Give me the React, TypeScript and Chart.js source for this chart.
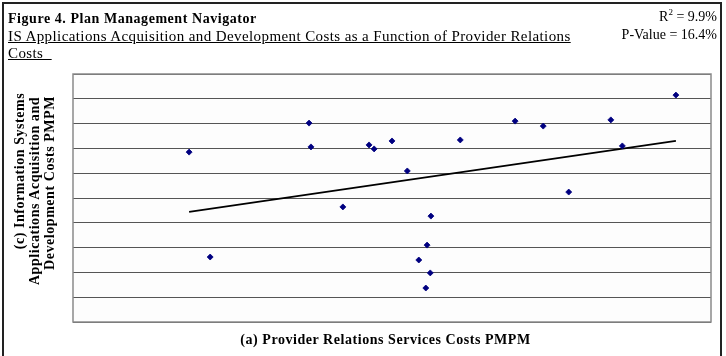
import React, { useEffect, useRef } from "react";
import { Chart, registerables } from "chart.js";

Chart.register(...registerables);

const pointsX = [18.2, 21.5, 37.0, 37.3, 42.3, 46.4, 47.2, 50.0, 52.4, 56.1, 55.5, 54.2, 56.0, 55.3, 60.7, 69.3, 73.7, 77.7, 84.3, 86.1, 94.5];
const pointsY = [6.85, 2.62, 8.02, 7.06, 4.64, 7.14, 6.98, 7.3, 6.09, 4.27, 3.1, 2.5, 1.98, 1.37, 7.34, 8.1, 7.9, 5.24, 8.15, 7.1, 9.15];
const trendX = [18.2, 94.5];
const trendY = [4.44, 7.3];

const titleText = "Figure 4. Plan Management Navigator";
const subtitleLine1 = "IS Applications Acquisition and Development Costs as a Function of Provider Relations";
const subtitleLine2 = "Costs\u00a0\u00a0";
const rSquaredText = "9.9%";
const pValueText = "P-Value = 16.4%";
const xTitle = "(a) Provider Relations Services Costs PMPM";
const yTitle = ["(c)  Information Systems", "Applications Acquisition and", "Development Costs PMPM"];

const SERIF = "'Liberation Serif', 'Times New Roman', serif";

const yTitlePos = [
  { x: 20, y: 171 },
  { x: 35, y: 191 },
  { x: 50, y: 183 },
];

export default function App() {
  const canvasRef = useRef<HTMLCanvasElement | null>(null);

  useEffect(() => {
    const canvas = canvasRef.current;
    if (!canvas) return;
    const plotBorder = {
      id: "plotBorder",
      beforeDraw(chart: any) {
        const { ctx, chartArea } = chart;
        ctx.save();
        ctx.fillStyle = "#fdfdfd";
        ctx.fillRect(chartArea.left, chartArea.top, chartArea.right - chartArea.left, chartArea.bottom - chartArea.top);
        ctx.restore();
      },
      afterDatasetsDraw(chart: any) {
        const { ctx, chartArea } = chart;
        ctx.save();
        ctx.strokeStyle = "#8a8a8a";
        ctx.lineWidth = 1.5;
        ctx.strokeRect(chartArea.left, chartArea.top, chartArea.right - chartArea.left, chartArea.bottom - chartArea.top);
        ctx.restore();
      },
    };
    const points = pointsX.map((x, i) => ({ x, y: pointsY[i] }));
    const trend = trendX.map((x, i) => ({ x, y: trendY[i] }));
    const chart = new Chart(canvas, {
      type: "scatter",
      data: {
        datasets: [
          {
            type: "line",
            data: trend,
            borderColor: "#000000",
            borderWidth: 1.8,
            pointRadius: 0,
            fill: false,
            order: 2,
          } as any,
          {
            data: points,
            pointStyle: "rectRot",
            pointRadius: 3,
            pointBorderWidth: 0.8,
            backgroundColor: "#000080",
            borderColor: "#000080",
            order: 1,
          },
        ],
      },
      options: {
        animation: false,
        responsive: false,
        devicePixelRatio: 1,
        layout: { padding: { left: 0, top: 74, right: 15, bottom: 0 } },
        plugins: { legend: { display: false }, tooltip: { enabled: false } },
        scales: {
          x: {
            type: "linear",
            min: 0,
            max: 100,
            grid: { display: false, drawTicks: false },
            border: { display: false },
            ticks: { display: false },
            afterFit(scale: any) {
              scale.height = 34;
            },
          },
          y: {
            min: 0,
            max: 10,
            ticks: { display: false, stepSize: 1 },
            grid: { color: "#555555", lineWidth: 1, drawTicks: false },
            border: { display: false },
            afterFit(scale: any) {
              scale.width = 73;
            },
          },
        },
      },
      plugins: [plotBorder],
    });
    return () => chart.destroy();
  }, []);

  const boldText: React.CSSProperties = {
    fontFamily: SERIF,
    fontSize: 14,
    fontWeight: "bold",
    letterSpacing: 0.55,
    whiteSpace: "nowrap",
    color: "#000",
    lineHeight: "16px",
  };

  return (
    <div style={{ position: "fixed", left: 0, top: 0, width: 726, height: 356, background: "#ffffff", overflow: "hidden" }}>
      <canvas ref={canvasRef} width={726} height={356} style={{ position: "absolute", left: 0, top: 0, width: 726, height: 356 }} />
      <div style={{ position: "absolute", left: 2, top: 2, width: 716, height: 400, border: "2px solid #222" }} />
      <div style={{ ...boldText, position: "absolute", left: 8, top: 10, lineHeight: "18px" }}>{titleText}</div>
      <div style={{ position: "absolute", left: 8, top: 28, fontFamily: SERIF, fontSize: 15, letterSpacing: 0.4, lineHeight: "17px", whiteSpace: "nowrap", color: "#000", textDecoration: "underline" }}>
        <div>{subtitleLine1}</div>
        <div>{subtitleLine2}</div>
      </div>
      <div style={{ position: "absolute", right: 9, top: 8, fontFamily: SERIF, fontSize: 14, lineHeight: "18px", textAlign: "right", whiteSpace: "nowrap", color: "#000" }}>
        <div>R<sup style={{ fontSize: 9, lineHeight: 0 }}>2</sup> = {rSquaredText}</div>
        <div>{pValueText}</div>
      </div>
      <div style={{ ...boldText, position: "absolute", left: 385.5, top: 340, transform: "translate(-50%, -50%)" }}>{xTitle}</div>
      {yTitle.map((line, i) => (
        <div
          key={i}
          style={{
            ...boldText,
            position: "absolute",
            left: yTitlePos[i].x,
            top: yTitlePos[i].y,
            transform: "translate(-50%, -50%) rotate(-90deg)",
          }}
        >
          {line}
        </div>
      ))}
    </div>
  );
}
